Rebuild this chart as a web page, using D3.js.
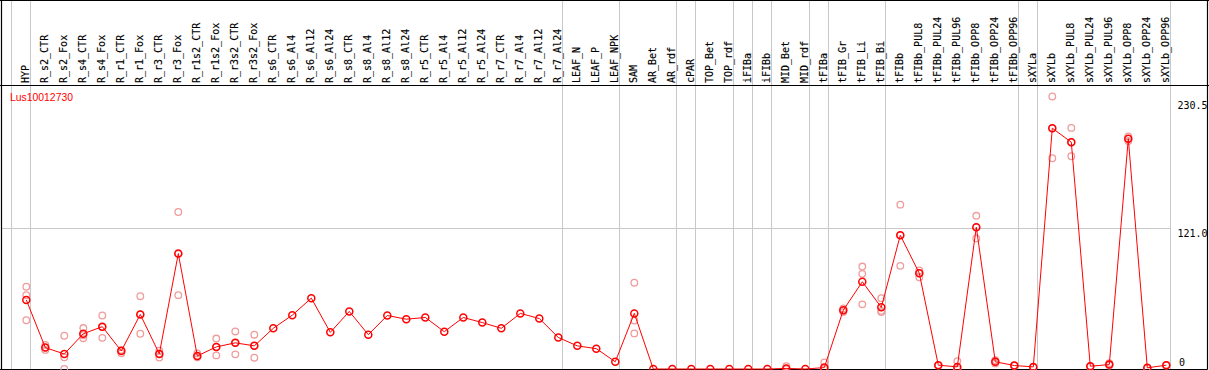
<!DOCTYPE html>
<html>
<head>
<meta charset="utf-8">
<script src="https://cdn.jsdelivr.net/npm/d3@7"></script>
<style>
  html, body { margin: 0; padding: 0; background: #fff; }
  svg { display: block; }
</style>
</head>
<body>
<div id="chart"></div>
<script>
const categories = [
  "HYP", "R_s2_CTR", "R_s2_Fox", "R_s4_CTR", "R_s4_Fox", "R_r1_CTR", "R_r1_Fox", "R_r3_CTR", "R_r3_Fox",
  "R_r1s2_CTR", "R_r1s2_Fox", "R_r3s2_CTR", "R_r3s2_Fox",
  "R_s6_CTR", "R_s6_Al4", "R_s6_Al12", "R_s6_Al24", "R_s8_CTR", "R_s8_Al4", "R_s8_Al12", "R_s8_Al24",
  "R_r5_CTR", "R_r5_Al4", "R_r5_Al12", "R_r5_Al24", "R_r7_CTR", "R_r7_Al4", "R_r7_Al12", "R_r7_Al24",
  "LEAF_N", "LEAF_P", "LEAF_NPK", "SAM", "AR_Bet", "AR_rdf", "cPAR", "TOP_Bet", "TOP_rdf",
  "iFIBa", "iFIBb", "MID_Bet", "MID_rdf", "tFIBa", "tFIB_Gr", "tFIB_Li", "tFIB_Bi",
  "tFIBb", "tFIBb_PUL8", "tFIBb_PUL24", "tFIBb_PUL96", "tFIBb_OPP8", "tFIBb_OPP24", "tFIBb_OPP96",
  "sXYLa", "sXYLb", "sXYLb_PUL8", "sXYLb_PUL24", "sXYLb_PUL96", "sXYLb_OPP8", "sXYLb_OPP24", "sXYLb_OPP96"
];

// mean expression per sample
const means = [
  59.4, 18.4, 12.9, 30.3, 36.4, 15.5, 46.9, 13.0, 99.2,
  11.2, 19.0, 22.5, 19.9,
  35.0, 46.3, 60.9, 31.5, 49.5, 29.5, 46.0, 42.8,
  44.3, 32.1, 44.3, 39.9, 35.0, 47.8, 43.4, 27.1,
  19.9, 17.5, 6.2, 47.8, 0, 0, 0, 0, 0,
  0, 0, 0.5, 0, 1.2, 50.6, 75.0, 53.0,
  115.0, 82.3, 3.3, 1.8, 121.9, 6.2, 3.0,
  1.8, 207.0, 195.0, 2.4, 3.8, 198.0, 1.0, 3.3
];

// individual replicates (empty = not shown)
const replicates = [
  [70.7, 63.5, 41.9], [20.7, 16.4, 18.4], [28.6, 10.0, 0], [35.2, 26.5, 29.0], [46.0, 36.0, 26.8],
  [16.4, 13.5, 16.0], [62.6, 47.0, 30.3], [15.8, 13.0, 9.9], [135.0, 99.0, 63.5],
  [13.4, 11.0, 10.0], [26.2, 19.0, 11.7], [32.3, 22.5, 12.6], [29.5, 20.0, 9.7],
  [], [], [], [], [], [], [], [],
  [], [], [], [], [], [], [], [],
  [], [], [], [74.2, 41.7, 30.6], [], [], [], [], [],
  [], [], [2.4, 0, 0], [], [5.6, 0.5, 0], [52.0, 50.6, 49.0], [88.1, 81.8, 55.6], [60.9, 50.0, 48.9],
  [141.3, 115.0, 88.7], [84.7, 82.3, 78.8], [3.3, 3.0], [6.8, 0, 0], [131.7, 121.9, 112.3], [7.5, 6.2, 4.8], [3.0, 2.8],
  [1.8, 1.5], [234.3, 207.0, 181.2], [207.3, 195.0, 182.9], [2.4, 2.0], [5.0, 3.8, 3.0], [200.0, 198.0, 196.0], [1.0, 0.8], [3.5, 3.0]
];

// group boundaries: a separator follows each of these sample indices (-1 = before the first)
const groupEnds = [-1, 0, 28, 31, 34, 35, 37, 38, 39, 41, 42, 45, 52, 53, 60];

const yTicks = [0, 121.0, 230.5];
const gridValues = [121.0];
const geneName = "Lus10012730";

const width = 1209;
const height = 370;
const headerBottom = 85.5;
const plotBottom = 369;

const svg = d3.select("#chart").append("svg")
  .attr("width", width)
  .attr("height", height);

const x = d3.scaleLinear()
  .domain([0, categories.length - 1])
  .range([26.3, 1166.3]);

const y = d3.scaleLinear()
  .domain([0, 230.5])
  .range([plotBottom, 100.9]);

const sepX = i => Math.round(x(i) + 4) + 0.5;
const lastSep = sepX(groupEnds[groupEnds.length - 1]);

// separators
svg.append("g")
  .selectAll("line")
  .data(groupEnds)
  .join("line")
  .attr("x1", d => sepX(d))
  .attr("x2", d => sepX(d))
  .attr("y1", 0)
  .attr("y2", plotBottom)
  .attr("stroke", "#c8c8c8")
  .attr("stroke-width", 1);

// horizontal grid
svg.append("g")
  .selectAll("line")
  .data(gridValues)
  .join("line")
  .attr("x1", 1)
  .attr("x2", lastSep)
  .attr("y1", d => Math.round(y(d)) + 0.5)
  .attr("y2", d => Math.round(y(d)) + 0.5)
  .attr("stroke", "#c8c8c8")
  .attr("stroke-width", 1);

// frame
const frame = svg.append("g").attr("stroke", "#000").attr("stroke-width", 1.2);
frame.append("line").attr("x1", 0).attr("x2", width).attr("y1", 0.5).attr("y2", 0.5);
frame.append("line").attr("x1", 0).attr("x2", width).attr("y1", headerBottom).attr("y2", headerBottom);
frame.append("line").attr("x1", 0).attr("x2", 1207.5).attr("y1", plotBottom + 0.5).attr("y2", plotBottom + 0.5);
frame.append("line").attr("x1", 1.5).attr("x2", 1.5).attr("y1", 0).attr("y2", plotBottom + 0.5);
frame.append("line").attr("x1", 1207.5).attr("x2", 1207.5).attr("y1", 0).attr("y2", plotBottom + 0.5);

// rotated sample labels
svg.append("g")
  .selectAll("text")
  .data(categories)
  .join("text")
  .attr("transform", (d, i) => `translate(${Math.round(x(i) + 3)},83) rotate(-90)`)
  .attr("font-family", "DejaVu Sans Mono, monospace")
  .attr("font-size", "10px")
  .attr("fill", "#000")
  .attr("stroke", "#000")
  .attr("stroke-width", 0.15)
  .text(d => d);

// gene name
svg.append("text")
  .attr("x", 10)
  .attr("y", 101)
  .attr("font-family", "Liberation Sans, Arial, sans-serif")
  .attr("font-size", "10.4px")
  .attr("fill", "#ff0000")
  .text(geneName);

// right-hand value labels
svg.append("g")
  .selectAll("text")
  .data(yTicks)
  .join("text")
  .attr("x", d => d === 0 ? 1179 : 1177.5)
  .attr("y", d => d === 0 ? y(d) - 3 : y(d) + 8.5)
  .attr("font-family", "DejaVu Sans Mono, monospace")
  .attr("font-size", "10px")
  .attr("fill", "#000")
  .text(d => d === 0 ? "0" : d.toFixed(1));

// replicate points
const repPoints = replicates.flatMap((vals, i) => vals.map(v => ({ i, v })));
svg.append("g")
  .selectAll("circle")
  .data(repPoints)
  .join("circle")
  .attr("cx", d => x(d.i))
  .attr("cy", d => y(d.v))
  .attr("r", 3.3)
  .attr("fill", "none")
  .attr("stroke", "#f09c9c")
  .attr("stroke-width", 1.3);

// mean line
const line = d3.line()
  .x((d, i) => x(i))
  .y(d => y(d));

svg.append("path")
  .datum(means)
  .attr("d", line)
  .attr("fill", "none")
  .attr("stroke", "#ff0000")
  .attr("stroke-width", 1);

svg.append("g")
  .selectAll("circle")
  .data(means)
  .join("circle")
  .attr("cx", (d, i) => x(i))
  .attr("cy", d => y(d))
  .attr("r", 3.5)
  .attr("fill", "none")
  .attr("stroke", "#ff0000")
  .attr("stroke-width", 1.5);
</script>
</body>
</html>
